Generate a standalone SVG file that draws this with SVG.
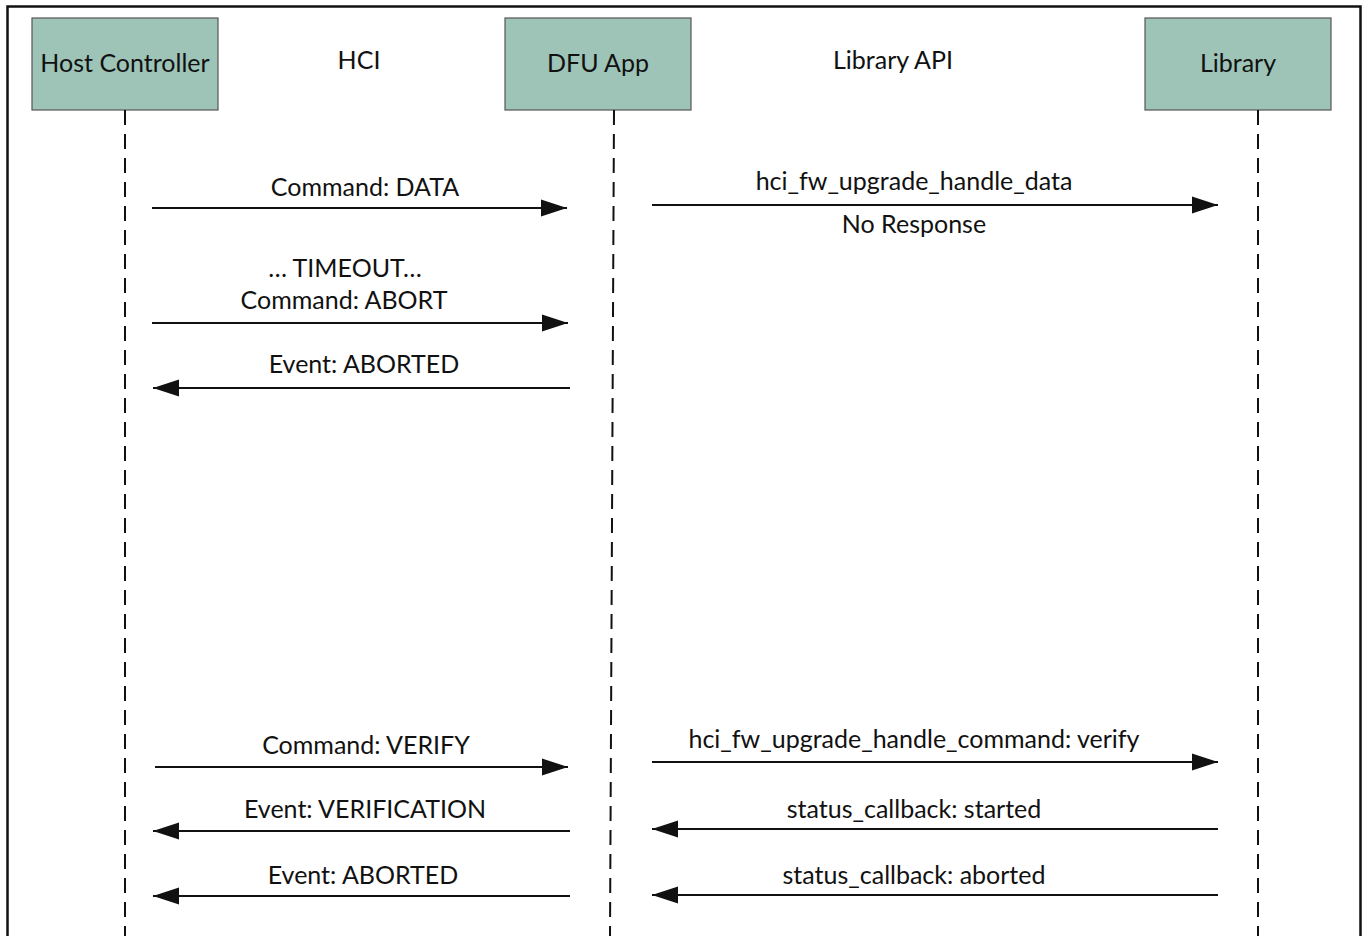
<svg xmlns="http://www.w3.org/2000/svg" width="1370" height="936" viewBox="0 0 1370 936">
  <style>
    .box { fill: #9dc4b7; stroke: #555; stroke-width: 1.2; }
    .lbl { font-family: Lato, "Liberation Sans", sans-serif; font-size: 25px; fill: #111; text-anchor: middle; }
    .life { stroke: #111; stroke-width: 2; stroke-dasharray: 15 9; fill: none; }
    .msg { stroke: #111; stroke-width: 2; fill: none; marker-end: url(#arrow); }
  </style>
  <defs>
    <marker id="arrow" markerUnits="userSpaceOnUse" markerWidth="28" markerHeight="20" refX="26" refY="9" orient="auto">
      <polygon points="0,0.5 26,9 0,17.5" fill="#111"/>
    </marker>
  </defs>
  <rect width="1370" height="936" fill="#fff"/>

  <!-- outer frame (open at the bottom) -->
  <path d="M7.5,936 V6.5 H1360.5 V936" fill="none" stroke="#111" stroke-width="2.5"/>

  <!-- channel headings -->
  <text class="lbl" x="359" y="69">HCI</text>
  <text class="lbl" x="893" y="69">Library API</text>

  <!-- participants -->
  <g id="host-controller">
    <rect class="box" x="32" y="18" width="186" height="92"/>
    <text class="lbl" x="125" y="72">Host Controller</text>
  </g>
  <g id="dfu-app">
    <rect class="box" x="505" y="18" width="186" height="92"/>
    <text class="lbl" x="598" y="72">DFU App</text>
  </g>
  <g id="library">
    <rect class="box" x="1145" y="18" width="186" height="92"/>
    <text class="lbl" x="1238" y="72">Library</text>
  </g>

  <!-- lifelines -->
  <g id="lifelines">
    <line class="life" x1="125" y1="110" x2="125" y2="936"/>
    <line class="life" x1="614" y1="110" x2="610" y2="936"/>
    <line class="life" x1="1258" y1="110" x2="1258" y2="936"/>
  </g>

  <!-- messages -->
  <g id="connectors">
    <line class="msg" x1="152" y1="208" x2="567" y2="208"/>
    <line class="msg" x1="652" y1="205" x2="1218" y2="205"/>
    <line class="msg" x1="152" y1="323" x2="568" y2="323"/>
    <line class="msg" x1="570" y1="388" x2="153" y2="388"/>
    <line class="msg" x1="155" y1="767" x2="568" y2="767"/>
    <line class="msg" x1="652" y1="762" x2="1218" y2="762"/>
    <line class="msg" x1="570" y1="831" x2="153" y2="831"/>
    <line class="msg" x1="1218" y1="829" x2="652" y2="829"/>
    <line class="msg" x1="570" y1="896" x2="153" y2="896"/>
    <line class="msg" x1="1218" y1="895" x2="652" y2="895"/>
  </g>

  <!-- message labels -->
  <g id="labels">
    <text class="lbl" x="365" y="196">Command: DATA</text>
    <text class="lbl" x="914" y="190">hci_fw_upgrade_handle_data</text>
    <text class="lbl" x="914" y="233">No Response</text>
    <text class="lbl" x="345" y="277">… TIMEOUT…</text>
    <text class="lbl" x="344" y="309">Command: ABORT</text>
    <text class="lbl" x="364" y="373">Event: ABORTED</text>
    <text class="lbl" x="366" y="754">Command: VERIFY</text>
    <text class="lbl" x="914" y="748">hci_fw_upgrade_handle_command: verify</text>
    <text class="lbl" x="365" y="818">Event: VERIFICATION</text>
    <text class="lbl" x="914" y="818">status_callback: started</text>
    <text class="lbl" x="363" y="884">Event: ABORTED</text>
    <text class="lbl" x="914" y="884">status_callback: aborted</text>
  </g>
</svg>
